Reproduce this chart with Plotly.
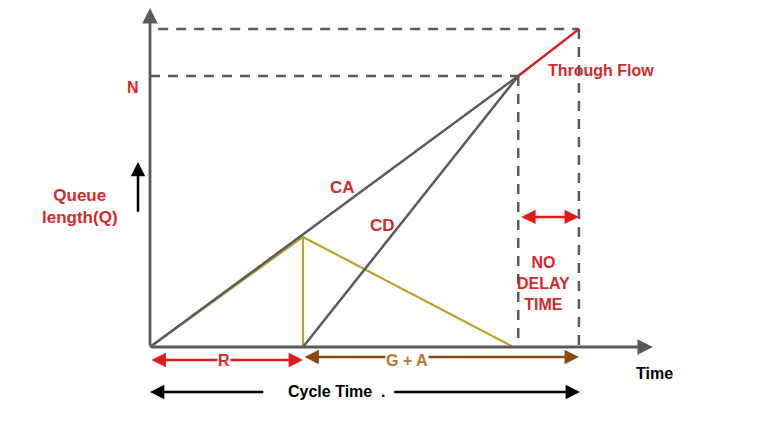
import plotly.graph_objects as go

# ---- data (diagram units: t = time, q = queue length) ----
t_red_end = 3.0          # end of red phase R
q_peak = 40.6            # queue at end of red
t_clear = 7.12           # queue clears
t_N = 7.22               # arrival/departure curves meet
q_N = 100.0              # N
t_top = 8.41             # end of cycle
q_top = 117.3

ca_t = [0, t_N]; ca_q = [0, q_N]
cd_t = [t_red_end, t_N]; cd_q = [0, q_N]
tri_t = [0, t_red_end, t_red_end, None, t_red_end, t_clear]
tri_q = [0, q_peak, 0, None, q_peak, 0]
flow_t = [t_N, t_top]; flow_q = [q_N, q_top]

PX_T = 51.0   # px per t unit
PX_Q = 2.71   # px per q unit
OFF = 8       # page body margin
X0, Y0 = 150 - OFF, 347 - OFF
W, H = 768 - OFF, 435 - OFF

RED = "#d42a2a"
GRAY = "#5a5a5a"
GOLD = "#bda12b"
BROWN = "#8a4a12"

fig = go.Figure()

# dashed guides
dash_style = dict(color=GRAY, width=2.5, dash="10px,8px")
fig.add_trace(go.Scatter(x=[0, t_N], y=[q_N, q_N], mode="lines", line=dash_style, hoverinfo="skip"))
fig.add_trace(go.Scatter(x=[0.16, t_top], y=[q_top, q_top], mode="lines", line=dash_style, hoverinfo="skip"))
fig.add_trace(go.Scatter(x=[t_N, t_N], y=[q_N, 0], mode="lines", line=dash_style, hoverinfo="skip"))
fig.add_trace(go.Scatter(x=[t_top, t_top], y=[q_top, 0], mode="lines", line=dash_style, hoverinfo="skip"))

# curves
fig.add_trace(go.Scatter(x=tri_t, y=tri_q, mode="lines", line=dict(color=GOLD, width=2.2), hoverinfo="skip"))
fig.add_trace(go.Scatter(x=ca_t, y=ca_q, mode="lines", line=dict(color=GRAY, width=2.5), hoverinfo="skip"))
fig.add_trace(go.Scatter(x=cd_t, y=cd_q, mode="lines", line=dict(color=GRAY, width=2.5), hoverinfo="skip"))
fig.add_trace(go.Scatter(x=flow_t, y=flow_q, mode="lines", line=dict(color="#d61f1f", width=2.5), hoverinfo="skip"))

def arrow(x, y, ax, ay, color, width=2.5, side="end", size=1.15, head=2):
    fig.add_annotation(x=x, y=y, ax=ax, ay=ay, xref="x", yref="y", axref="x", ayref="y",
                       text="", showarrow=True, arrowhead=head, arrowsize=size,
                       arrowwidth=width, arrowcolor=color, arrowside=side,
                       startarrowhead=head, startarrowsize=size, standoff=0, startstandoff=0)

def label(x, y, text, color, size=16, bg=None):
    fig.add_annotation(x=x, y=y, xref="x", yref="y", text=text, showarrow=False,
                       font=dict(family="Liberation Sans, Arial", size=size, color=color),
                       bgcolor=bg, borderpad=0)

# axes
arrow(0, 125.1, 0, 0, GRAY, width=2.8, size=1.1)
arrow(9.86, 0, 0, 0, GRAY, width=2.8, size=1.1)

# R arrow
q_r = -4.8
arrow(t_red_end, q_r, 0, q_r, "#e01b1b", width=2.5, side="end+start")
label(1.45, q_r, "<b>R</b>", RED, bg="white")

# G + A arrow
q_ga = -3.7
arrow(t_top, q_ga, t_red_end, q_ga, BROWN, width=2.5, side="end+start")
label(5.04, q_ga - 1.2, "<b>G + A</b>", "#b8762e", bg="white")

# Cycle time
q_c = -16.6
arrow(0, q_c, 2.25, q_c, "black", width=2.5)
arrow(8.43, q_c, 4.76, q_c, "black", width=2.5)
label(3.67, q_c, "<b>Cycle Time  .</b>", "black")

# No delay
arrow(t_top, 48, t_N + 0.03, 48, "#e01b1b", width=2.5, side="end+start")
label(7.71, 23.6, "<b>NO<br>DELAY<br>TIME</b>", RED, size=16)

# queue up arrow
arrow(-0.235, 68.3, -0.235, 49.4, "black", width=2.5)

label(-0.33, 95.9, "<b>N</b>", RED)
label(-1.37, 52, "<b>Queue<br>length(Q)</b>", RED, size=17)
label(3.78, 58.7, "<b>CA</b>", RED, size=17)
label(4.55, 45, "<b>CD</b>", RED, size=17)
label(8.84, 102.2, "<b>Through Flow</b>", RED)
label(9.9, -9.6, "<b>Time</b>", "black")

fig.update_layout(
    width=W, height=H, margin=dict(l=0, r=0, t=0, b=0),
    paper_bgcolor="white", plot_bgcolor="white", showlegend=False,
    xaxis=dict(range=[-X0 / PX_T, (W - X0) / PX_T], visible=False, fixedrange=True),
    yaxis=dict(range=[(Y0 - H) / PX_Q, Y0 / PX_Q], visible=False, fixedrange=True),
)

fig.write_html("out.html")
